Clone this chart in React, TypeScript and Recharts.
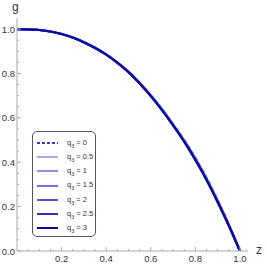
import React from "react";
import { LineChart, Line, XAxis, YAxis, Legend } from "recharts";

const zValues = [0, 0.05, 0.1, 0.15, 0.2, 0.25, 0.3, 0.35, 0.4, 0.45, 0.5, 0.55, 0.6, 0.65, 0.7, 0.75, 0.8, 0.85, 0.9, 0.95, 1.0];

const gQ0 = [1, 0.999, 0.996, 0.989, 0.978, 0.962, 0.941, 0.916, 0.886, 0.85, 0.808, 0.758, 0.702, 0.64, 0.572, 0.5, 0.42, 0.33, 0.23, 0.12, 0];
const gQ05 = [1, 0.999, 0.996, 0.989, 0.978, 0.962, 0.941, 0.916, 0.886, 0.85, 0.808, 0.758, 0.702, 0.64, 0.571, 0.499, 0.418, 0.328, 0.228, 0.119, 0];
const gQ1 = [1, 0.999, 0.996, 0.989, 0.978, 0.962, 0.941, 0.916, 0.886, 0.85, 0.808, 0.757, 0.701, 0.639, 0.57, 0.497, 0.416, 0.326, 0.226, 0.118, 0];
const gQ15 = [1, 0.999, 0.996, 0.989, 0.978, 0.962, 0.941, 0.916, 0.886, 0.85, 0.807, 0.757, 0.701, 0.638, 0.569, 0.496, 0.415, 0.324, 0.224, 0.117, 0];
const gQ2 = [1, 0.999, 0.996, 0.989, 0.978, 0.962, 0.941, 0.916, 0.885, 0.849, 0.807, 0.756, 0.7, 0.637, 0.568, 0.495, 0.413, 0.323, 0.223, 0.116, 0];
const gQ25 = [1, 0.999, 0.996, 0.989, 0.978, 0.962, 0.941, 0.915, 0.885, 0.849, 0.806, 0.756, 0.699, 0.636, 0.567, 0.494, 0.412, 0.321, 0.221, 0.115, 0];
const gQ3 = [1, 0.999, 0.996, 0.989, 0.978, 0.962, 0.94, 0.915, 0.885, 0.848, 0.806, 0.755, 0.698, 0.635, 0.566, 0.492, 0.41, 0.32, 0.22, 0.114, 0];

const q3Labels = ["0", "0.5", "1", "1.5", "2", "2.5", "3"];
const seriesColors = ["#3a3ac8", "#a9a9e6", "#8f8fdf", "#7272d6", "#5252cc", "#3030b8", "#0a0aa0"];

const xTicks = [0.05, 0.1, 0.15, 0.2, 0.25, 0.3, 0.35, 0.4, 0.45, 0.5, 0.55, 0.6, 0.65, 0.7, 0.75, 0.8, 0.85, 0.9, 0.95, 1.0];
const yTicks = [0, 0.05, 0.1, 0.15, 0.2, 0.25, 0.3, 0.35, 0.4, 0.45, 0.5, 0.55, 0.6, 0.65, 0.7, 0.75, 0.8, 0.85, 0.9, 0.95, 1.0];

const seriesValues = [gQ0, gQ05, gQ1, gQ15, gQ2, gQ25, gQ3];
const keys = q3Labels.map((_, i) => `g${i}`);

const data = zValues.map((z, i) => {
  const row: Record<string, number> = { z };
  seriesValues.forEach((vals, s) => {
    row[keys[s]] = vals[i];
  });
  return row;
});

const isMajor = (v: number) => Math.abs(v * 5 - Math.round(v * 5)) < 1e-6;

const XTick = (props: any) => {
  const { x, y, payload } = props;
  const major = isMajor(payload.value);
  return (
    <g>
      <line x1={x} x2={x} y1={y} y2={y - (major ? 4 : 2)} stroke="#aaa" />
      {major && (
        <text x={x} y={y + 11} textAnchor="middle" fontSize={9.5} fill="#333" fontFamily="Liberation Sans">
          {payload.value.toFixed(1)}
        </text>
      )}
    </g>
  );
};

const YTick = (props: any) => {
  const { x, y, payload } = props;
  const major = isMajor(payload.value);
  return (
    <g>
      <line x1={x} x2={x + (major ? 4 : 2)} y1={y} y2={y} stroke="#aaa" />
      {major && (
        <text x={x - 2} y={y + 3.5} textAnchor="end" fontSize={9.5} fill="#333" fontFamily="Liberation Sans">
          {payload.value.toFixed(1)}
        </text>
      )}
    </g>
  );
};

const renderLegend = () => (
  <div
    style={{
      width: 64,
      height: 106,
      border: "1px solid #555",
      borderRadius: 5,
      background: "#fff",
      boxSizing: "border-box",
      paddingTop: 4,
      fontFamily: "Liberation Sans",
      fontSize: 7.5,
      color: "#333",
    }}
  >
    {q3Labels.map((q, i) => (
      <div key={q} style={{ height: 14.2, display: "flex", alignItems: "center" }}>
        <svg width={30} height={4} style={{ marginLeft: 4 }}>
          <line
            x1={0}
            x2={21}
            y1={2}
            y2={2}
            stroke={seriesColors[i]}
            strokeWidth={2}
            strokeDasharray={i === 0 ? "3 2" : undefined}
          />
        </svg>
        <span>
          q<sub style={{ fontSize: 5.5 }}>3</sub> = {q}
        </span>
      </div>
    ))}
  </div>
);

export default function App() {
  return (
    <div style={{ position: "absolute", left: 0, top: 0, width: 267, height: 267, background: "#fff" }}>
      <LineChart width={267} height={267} data={data} margin={{ top: 18, right: 19, bottom: 0, left: 0 }}>
        <XAxis
          dataKey="z"
          type="number"
          domain={[0, 1.036]}
          ticks={xTicks}
          interval={0}
          tick={<XTick />}
          tickLine={false}
          tickSize={0}
          tickMargin={0}
          height={16}
          axisLine={{ stroke: "#aaa" }}
          allowDataOverflow
        />
        <YAxis
          type="number"
          domain={[0, 1.05]}
          ticks={yTicks}
          interval={0}
          tick={<YTick />}
          tickLine={false}
          tickSize={0}
          tickMargin={0}
          width={17}
          axisLine={{ stroke: "#aaa" }}
          allowDataOverflow
        />
        <Legend
          layout="vertical"
          align="center"
          verticalAlign="middle"
          content={renderLegend}
          wrapperStyle={{ left: 32, top: 131, width: 64, height: 106 }}
        />
        {keys.map((k, i) => (
          <Line
            key={k}
            type="monotone"
            dataKey={k}
            stroke={seriesColors[i]}
            strokeWidth={2.2}
            strokeDasharray={i === 0 ? "4 3" : undefined}
            dot={false}
            isAnimationActive={false}
            legendType="line"
          />
        ))}
      </LineChart>
      <div style={{ position: "absolute", left: 12, top: 0, fontFamily: "Liberation Sans", fontSize: 12, color: "#333" }}>g</div>
      <div style={{ position: "absolute", left: 256, top: 243, fontFamily: "Liberation Sans", fontSize: 12, color: "#333" }}>z</div>
    </div>
  );
}
